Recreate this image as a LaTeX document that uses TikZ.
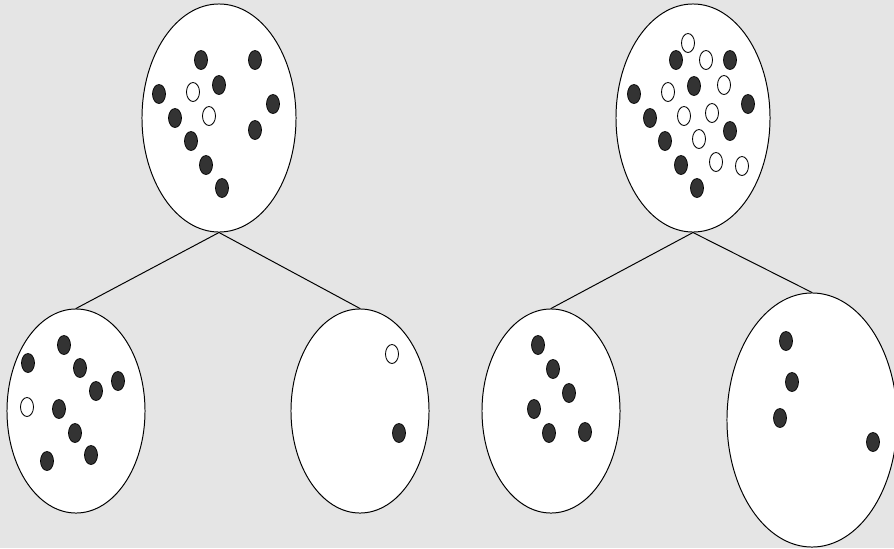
\documentclass[tikz,border=0pt]{standalone}
\usetikzlibrary{shapes.geometric}
\definecolor{bggray}{HTML}{E5E5E5}
\definecolor{dotgray}{HTML}{333333}
\tikzset{
    setbox/.style={draw,ellipse,fill=white,inner sep=0pt,line width=0.7pt},
    blackball/.style={draw,fill=dotgray,line width=0.5pt},
    whiteball/.style={draw,fill=white,line width=0.6pt}
}
\begin{document}
\begin{tikzpicture}[x=0.025cm,y=-0.025cm,line cap=round]
        % draw the background
        \fill[bggray] (0,0) rectangle (894,548);
        \useasboundingbox (0,0) rectangle (894,548);

        % draw the sets
        \node[setbox,minimum width=3.85cm,minimum height=5.7cm] (rootA) at (219,118) {};
        \node[setbox,minimum width=3.85cm,minimum height=5.7cm] (rootB) at (693,118) {};
        \node[setbox,minimum width=3.45cm,minimum height=5.1cm] (leftA) at (76,411) {};
        \node[setbox,minimum width=3.45cm,minimum height=5.1cm] (rightA) at (360,411) {};
        \node[setbox,minimum width=3.45cm,minimum height=5.1cm] (leftB) at (551,411) {};
        \node[setbox,minimum width=4.25cm,minimum height=6.35cm] (rightB) at (812,420) {};

        % draw the splits
        \draw[line width=0.7pt] (rootA.south) -- (leftA.north);
        \draw[line width=0.7pt] (rootA.south) -- (rightA.north);
        \draw[line width=0.7pt] (rootB.south) -- (leftB.north);
        \draw[line width=0.7pt] (rootB.south) -- (rightB.north);

        % draw the black points
        \foreach \x/\y in {
            201/60, 255/60, 219/85, 159/94, 273/104, 175/118, 255/130, 191/141, 206/165, 222/188,
            676/60, 730/60, 694/86, 634/94, 748/104, 650/118, 730/131, 665/141, 681/165, 697/188,
            64/345, 28/363, 80/368, 118/381, 96/391, 59/409, 75/433, 91/455, 47/461,
            399/433,
            538/345, 553/369, 569/393, 534/409, 549/433, 585/432,
            786/341, 792/382, 780/418, 873/442}
                \draw[blackball] (\x,\y) ellipse (0.1625cm and 0.2375cm);
        % draw the white points
        \foreach \x/\y in {
            193/92, 209/116,
            688/43, 706/60, 724/85, 668/92, 684/116, 712/113, 699/139, 716/162, 742/166,
            27/407,
            392/354}
                \draw[whiteball] (\x,\y) ellipse (0.1625cm and 0.2375cm);
\end{tikzpicture}
\end{document}
